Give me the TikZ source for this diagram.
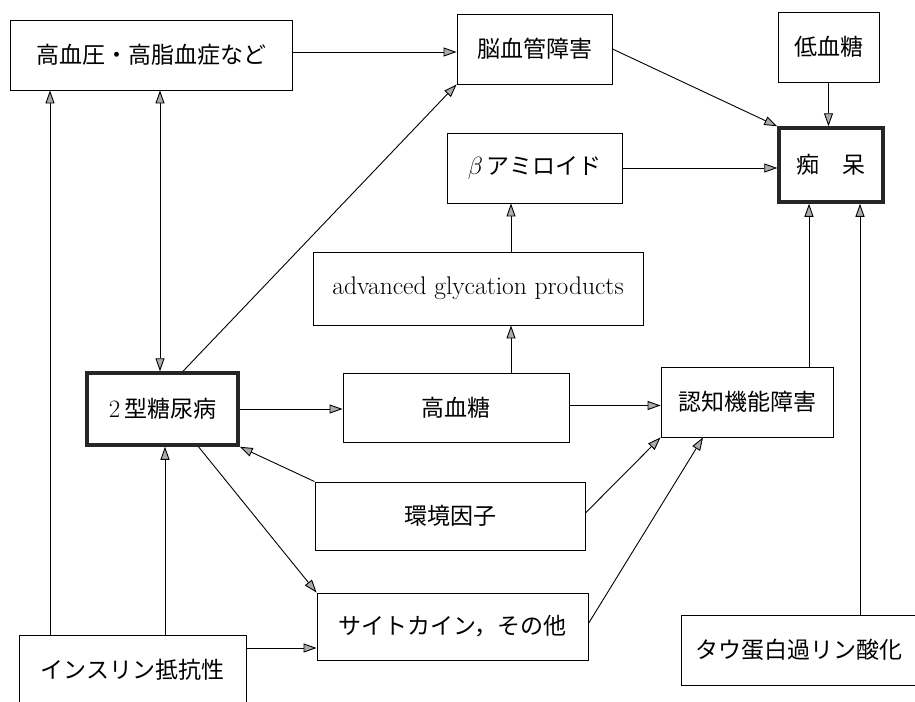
\documentclass[tikz,border=0pt]{standalone}
\usepackage{fontspec}
\newfontfamily\jp{Noto Sans CJK JP}
\usetikzlibrary{arrows.meta,calc}
\begin{document}
\begin{tikzpicture}[x=1pt,y=-1pt,
  box/.style={draw=black,line width=0.9pt,inner sep=0pt,font=\jp\fontsize{23pt}{27pt}\selectfont},
  thickbox/.style={box,line width=3.5pt,draw=black!85},
  arr/.style={line width=0.9pt,-{Triangle[length=13pt,width=9pt,fill=gray!65]}},
  darr/.style={line width=0.9pt,{Triangle[length=13pt,width=9pt,fill=gray!65]}-{Triangle[length=13pt,width=9pt,fill=gray!65]}}]
\useasboundingbox (0,0) rectangle (915,701);
\node[box,minimum width=282pt,minimum height=70pt] (A) at (151,55) {高血圧・高脂血症など};
\node[box,minimum width=155pt,minimum height=70pt] (B) at (534.5,49) {脳血管障害};
\node[box,minimum width=101pt,minimum height=70pt] (C) at (828.5,47) {低血糖};
\node[thickbox,minimum width=104pt,minimum height=74pt] (D) at (831,165) {痴　呆};
\node[box,minimum width=175pt,minimum height=70pt] (E) at (534.5,168) {$\beta$\,アミロイド};
\node[box,minimum width=330pt,minimum height=73pt,font=\fontsize{25.5pt}{30pt}\selectfont] (F) at (478,288.5) {advanced glycation products};
\node[thickbox,minimum width=151pt,minimum height=72pt] (G) at (162.5,409) {{\rmfamily\fontsize{25pt}{30pt}\selectfont 2}\,型糖尿病};
\node[box,minimum width=226pt,minimum height=69pt] (H) at (456,407.5) {高血糖};
\node[box,minimum width=172pt,minimum height=70pt] (I) at (747,402) {認知機能障害};
\node[box,minimum width=270pt,minimum height=68pt] (J) at (450,516) {環境因子};
\node[box,minimum width=271pt,minimum height=67pt] (K) at (452.5,626.5) {サイトカイン，その他};
\node[box,minimum width=227pt,minimum height=70pt] (L) at (132.5,670) {インスリン抵抗性};
\node[box,minimum width=236pt,minimum height=70pt] (M) at (799,650) {タウ蛋白過リン酸化};
% connectors
\draw[arr] ([yshift=3pt]A.east) -- ([yshift=3pt]A.east -| B.west);
\draw[arr] (B.east) -- (D.north west);
\draw[arr] (C.south) -- (C.south |- D.north);
\draw[arr] (E.east) -- (E.east -| D.west);
\draw[arr] ([xshift=33pt]F.north) -- ([xshift=33pt]F.north |- E.south);
\draw[arr] ([xshift=55pt]H.north) -- ([xshift=55pt]H.north |- F.south);
\draw[arr] (G.east) -- (G.east -| H.west);
\draw[arr] ([yshift=2pt]H.east) -- ([yshift=2pt]H.east -| I.west);
\draw[arr] ([xshift=62pt]I.north) -- ([xshift=62pt]I.north |- D.south);
\draw[arr] ([xshift=61pt]M.north) -- ([xshift=61pt]M.north |- D.south);
\draw[arr] ([xshift=20.5pt]G.north) -- (B.south west);
\draw[darr] ([xshift=9pt]A.south) -- ([xshift=9pt]A.south |- G.north);
\draw[arr] ([xshift=-82.5pt]L.north) -- ([xshift=-82.5pt]L.north |- A.south);
\draw[arr] ([xshift=32.5pt]L.north) -- ([xshift=32.5pt]L.north |- G.south);
\draw[arr] ([yshift=22pt]L.east) -- ([yshift=22pt]L.east -| K.west);
\draw[arr] ([xshift=36pt]G.south) -- (K.north west);
\draw[arr] (J.north west) -- (G.south east);
\draw[arr] ([yshift=3pt]J.east) -- (I.south west);
\draw[arr] ([yshift=3pt]K.east) -- ([xshift=-44pt]I.south);
\end{tikzpicture}
\end{document}
